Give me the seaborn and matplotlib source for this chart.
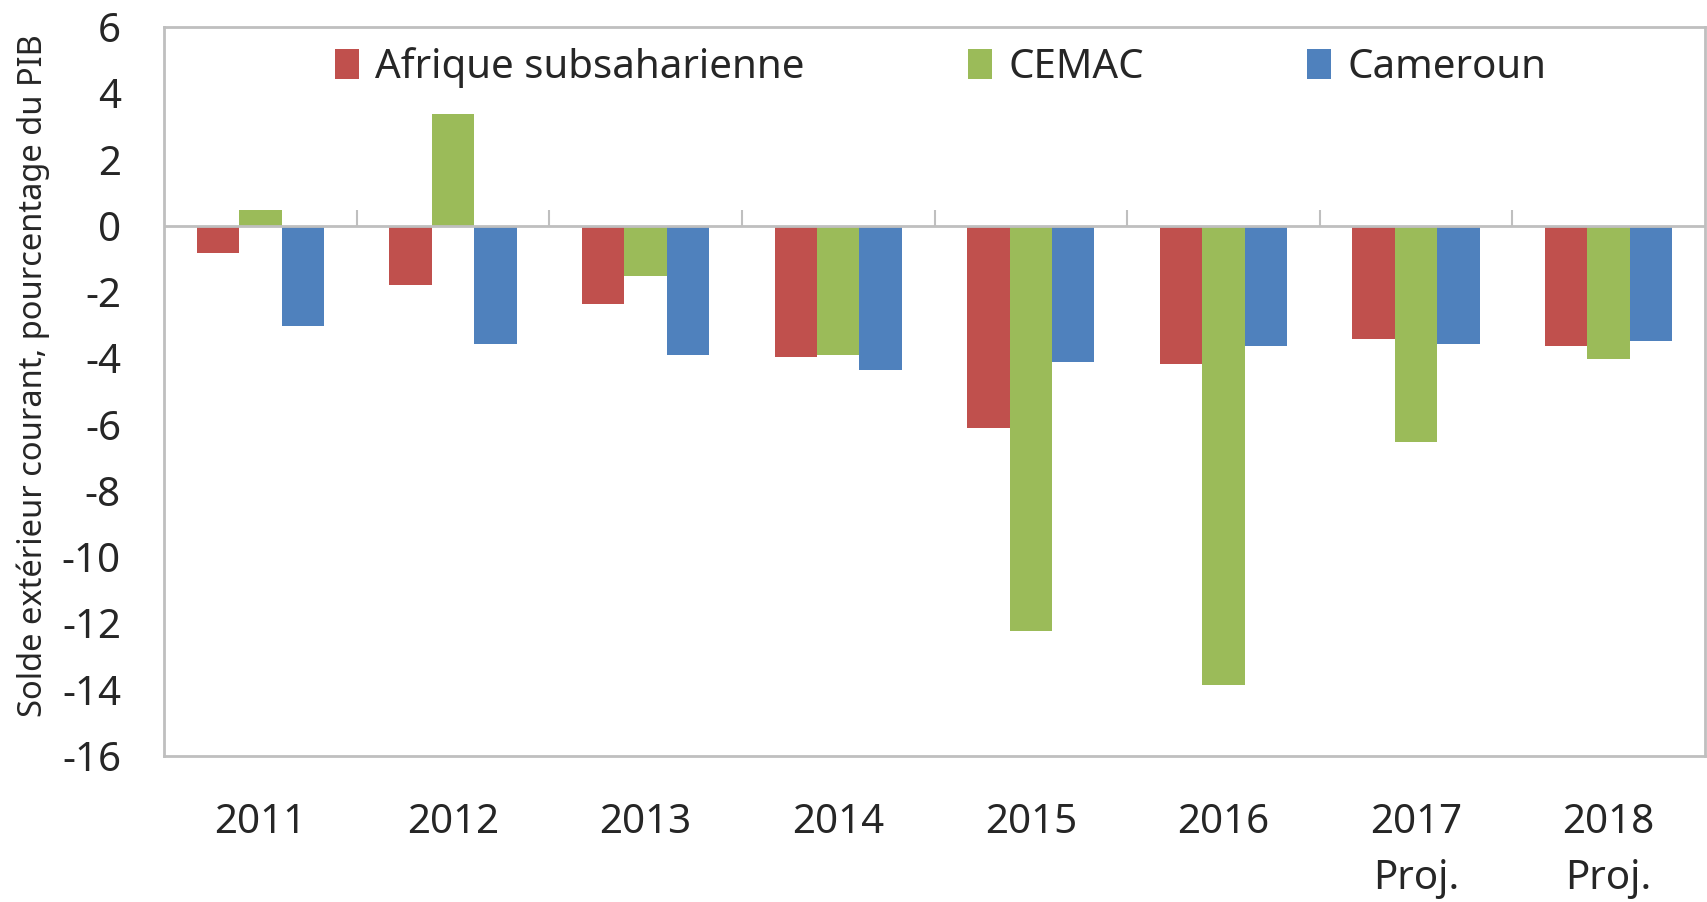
import numpy as np
import pandas as pd
import matplotlib
matplotlib.use("Agg")
import matplotlib.pyplot as plt
import seaborn as sns

# Data
years = ["2011", "2012", "2013", "2014", "2015", "2016", "2017\nProj.", "2018\nProj."]
series = ["Afrique subsaharienne", "CEMAC", "Cameroun"]
afrique = [-0.83, -1.78, -2.37, -3.95, -6.09, -4.17, -3.42, -3.64]
cemac = [0.47, 3.37, -1.51, -3.91, -12.22, -13.86, -6.53, -4.02]
cameroun = [-3.03, -3.58, -3.91, -4.34, -4.12, -3.64, -3.58, -3.48]
yticks = list(range(-16, 7, 2))

colors = ["#C0504D", "#9BBB59", "#4F81BD"]
gray = "#BFBFBF"

df = pd.DataFrame({
    "year": years * 3,
    "serie": [s for s in series for _ in years],
    "value": afrique + cemac + cameroun,
})

sns.set_style("white")
plt.rcParams["font.family"] = ["Noto Sans", "DejaVu Sans"]

fig = plt.figure(figsize=(17.07, 9.02), dpi=100)
ax = fig.add_axes([164 / 1707, 146 / 902, 1541 / 1707, 729 / 902])

sns.barplot(data=df, x="year", y="value", hue="serie", order=years,
            hue_order=series, palette=colors, width=0.66, linewidth=0,
            saturation=1, ax=ax, legend=True)

ax.set_ylim(-16, 6)
ax.set_xlim(-0.5, len(years) - 0.5)
ax.set_yticks(yticks)
ax.set_yticklabels([str(t) for t in yticks])

# zero line with category separators
ax.axhline(0, color=gray, lw=2, zorder=1)
bounds = np.arange(len(years) - 1) + 0.5
ax.vlines(bounds, 0, 0.48, color=gray, lw=1.5, zorder=1)

for sp in ax.spines.values():
    sp.set_color(gray)
    sp.set_linewidth(2)

ax.tick_params(axis="y", direction="in", length=8, width=1.5, color=gray,
               labelsize=29, pad=31)
ax.tick_params(axis="x", length=0, labelsize=29, pad=34)
for lab in ax.get_xticklabels():
    lab.set_linespacing(1.52)

ax.set_xlabel("")
ax.set_ylabel("Solde extérieur courant, pourcentage du PIB", fontsize=23.5)
ax.yaxis.set_label_coords(-0.074, 0.522)

handles, labels = ax.get_legend_handles_labels()
ax.legend(handles, labels, loc="upper center", bbox_to_anchor=(0.504, 1.0),
          ncol=3, frameon=False, fontsize=29, handlelength=0.6,
          handleheight=0.75, handletextpad=0.4, columnspacing=4.05,
          borderaxespad=0.1)

fig.savefig("out.png", dpi=100)
